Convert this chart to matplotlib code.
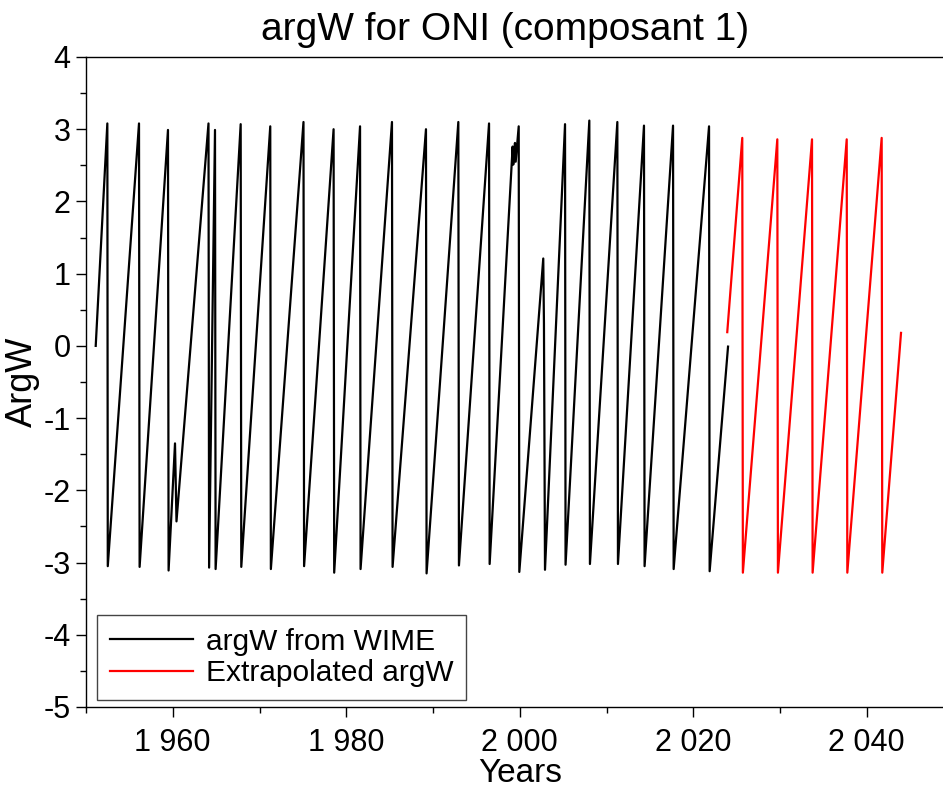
import matplotlib

matplotlib.use("Agg")
import matplotlib.pyplot as plt
from matplotlib.ticker import FuncFormatter, MultipleLocator

# vertices of the phase curve (years, radians)
WIME_YEARS = [
    1951.12, 1952.46, 1952.51, 1956.11, 1956.18, 1959.45, 1959.52, 1960.26,
    1960.43, 1964.12, 1964.19, 1964.87, 1964.94, 1967.83, 1967.90, 1971.24,
    1971.31, 1975.07, 1975.14, 1978.54, 1978.61, 1981.59, 1981.65, 1985.27,
    1985.34, 1989.19, 1989.26, 1992.92, 1992.99, 1996.46, 1996.53, 1999.18,
    1999.25, 1999.45, 1999.53, 1999.88, 1999.95, 2002.71, 2002.79, 2002.91,
    2005.22, 2005.28, 2008.02, 2008.09, 2011.25, 2011.32, 2014.32, 2014.39,
    2017.67, 2017.74, 2021.82, 2021.89, 2024.01,
]
WIME_ARGW = [
    0.00, 3.08, -3.05, 3.08, -3.06, 2.99, -3.11, -1.35,
    -2.43, 3.08, -3.07, 2.99, -3.09, 3.07, -3.06, 3.04,
    -3.09, 3.10, -3.05, 3.00, -3.14, 3.04, -3.09, 3.10,
    -3.06, 3.00, -3.15, 3.10, -3.04, 3.08, -3.02, 2.76,
    2.51, 2.81, 2.55, 3.04, -3.13, 1.21, 0.31, -3.10,
    3.07, -3.03, 3.12, -3.02, 3.10, -3.02, 3.05, -3.05,
    3.05, -3.09, 3.04, -3.12, -0.01,
]

EXTRA_YEARS = [
    2023.92, 2025.65, 2025.72, 2029.69, 2029.76, 2033.69,
    2033.76, 2037.69, 2037.76, 2041.72, 2041.79, 2043.95,
]
EXTRA_ARGW = [
    0.19, 2.88, -3.14, 2.86, -3.14, 2.86,
    -3.14, 2.86, -3.14, 2.88, -3.14, 0.18,
]

TITLE = "argW for ONI (composant 1)"
XLABEL = "Years"
YLABEL = "ArgW"
LEGEND_LABELS = ["argW from WIME", "Extrapolated argW"]

plt.rcParams["font.family"] = ["Liberation Sans", "DejaVu Sans"]
plt.rcParams["axes.unicode_minus"] = False

W, H = 943, 792


def year_fmt(v, pos):
    s = f"{int(round(v)):d}"
    return s[0] + " " + s[1:]


def main():
    fig = plt.figure(figsize=(W / 100, H / 100), dpi=100)
    ax = fig.add_axes([86 / W, 1 - 707 / H, 867.5 / W, 650 / H])

    ax.plot(WIME_YEARS, WIME_ARGW, color="black", linewidth=1.6, label=LEGEND_LABELS[0])
    ax.plot(EXTRA_YEARS, EXTRA_ARGW, color="red", linewidth=1.6, label=LEGEND_LABELS[1])

    ax.set_xlim(1950, 2050)
    ax.set_ylim(-5, 4)
    ax.xaxis.set_major_locator(MultipleLocator(20))
    ax.xaxis.set_minor_locator(MultipleLocator(10))
    ax.yaxis.set_major_locator(MultipleLocator(1))
    ax.yaxis.set_minor_locator(MultipleLocator(0.5))
    ax.xaxis.set_major_formatter(FuncFormatter(year_fmt))

    ax.tick_params(which="major", direction="out", length=7, width=1, labelsize=22)
    ax.tick_params(which="minor", direction="out", length=4, width=1)
    ax.tick_params(axis="x", pad=8)
    ax.tick_params(axis="y", pad=4)
    ax.tick_params(top=False, right=False, which="both")
    for sp in ax.spines.values():
        sp.set_linewidth(1)

    fig.text(505 / W, 1 - 40 / H, TITLE, fontsize=28, ha="center", va="baseline")
    fig.text(520 / W, 1 - 782 / H, XLABEL, fontsize=24, ha="center", va="baseline")
    fig.text(22 / W, 1 - 382 / H, YLABEL, fontsize=26, rotation=90,
             ha="center", va="center")

    leg = ax.legend(
        loc="lower left",
        bbox_to_anchor=(0.0127, 0.011),
        borderaxespad=0,
        fontsize=21.5,
        fancybox=False,
        framealpha=1,
        edgecolor="#444444",
        handlelength=2.8,
        handletextpad=0.42,
        borderpad=0.42,
        labelspacing=0.12,
    )
    leg.get_frame().set_linewidth(1)

    fig.savefig("out.png", dpi=100)
    plt.close(fig)


if __name__ == "__main__":
    main()
